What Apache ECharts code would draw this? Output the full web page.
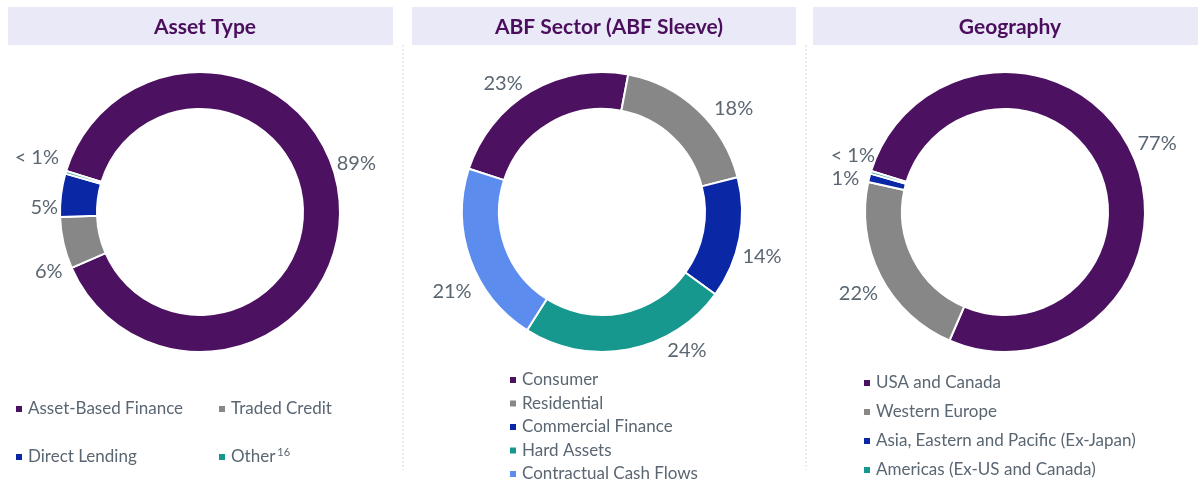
<!DOCTYPE html>
<html><head><meta charset="utf-8">
<script src="https://cdn.jsdelivr.net/npm/echarts@6/dist/echarts.min.js"></script>
<style>html,body{margin:0;padding:0;background:#fff}#c{width:1203px;height:490px}</style>
</head><body><div id="c"></div>
<script>
// ---- data ----
const assetNames = ['Asset-Based Finance', 'Traded Credit', 'Direct Lending', 'Other'];
const assetValues = [89, 6, 5, 0.3];
const assetLabels = ['89%', '6%', '5%', '< 1%'];

const sectorNames = ['Consumer', 'Residential', 'Commercial Finance', 'Hard Assets', 'Contractual Cash Flows'];
const sectorValues = [23, 18, 14, 24, 21];
const sectorLabels = ['23%', '18%', '14%', '24%', '21%'];

const geoNames = ['USA and Canada', 'Western Europe', 'Asia, Eastern and Pacific (Ex-Japan)', 'Americas (Ex-US and Canada)'];
const geoValues = [77, 22, 1, 0.3];
const geoLabels = ['77%', '22%', '1%', '< 1%'];

const titles = ['Asset Type', 'ABF Sector (ABF Sleeve)', 'Geography'];

// ---- style ----
const PURPLE = '#4C1261', GRAY = '#878787', NAVY = '#0A27A6', TEAL = '#16988F', LBLUE = '#5C8DEE';
const assetColors = [PURPLE, GRAY, NAVY, TEAL];
const sectorColors = [PURPLE, GRAY, NAVY, TEAL, LBLUE];
const geoColors = [PURPLE, GRAY, NAVY, TEAL];
const TXT = '#5A6672';
const FONT = 'Lato, "Open Sans", sans-serif';
// label nudges (style only), [dx, dy] per slice
const assetNudge = [[-14, -40], [10, 27], [8, 13], [4, -13]];
const sectorNudge = [[0, -3], [7, 3], [-8, 17], [33, -5], [12, 30]];
const geoNudge = [[-5, -7], [8, 15], [0, -14], [15, -15]];

function mkData(names, values, colors) {
  return names.map((n, i) => ({ name: n, value: values[i], itemStyle: { color: colors[i] } }));
}
function mkPie(cx, names, values, colors, labels, startAngle, nudge) {
  return {
    type: 'pie',
    center: [cx, 212],
    radius: [103, 140],
    startAngle: startAngle,
    clockwise: true,
    avoidLabelOverlap: true,
    itemStyle: { borderColor: '#fff', borderWidth: 2 },
    label: {
      show: true, position: 'outside',
      formatter: p => labels[p.dataIndex],
      color: TXT, fontSize: 20, fontFamily: FONT
    },
    labelLine: { show: false, length: 6, length2: 0 },
    labelLayout: p => ({ dx: nudge[p.dataIndex][0], dy: nudge[p.dataIndex][1] }),
    emphasis: { disabled: true },
    data: mkData(names, values, colors)
  };
}

const legendText = { color: TXT, fontSize: 17, fontFamily: FONT };
function mkLegend(data, left, top, lineHeight, gap) {
  return {
    data: data, orient: 'vertical', left: left, top: top, padding: 0, height: 200,
    icon: 'rect', itemWidth: 8, itemHeight: 8, itemGap: gap,
    selectedMode: false,
    textStyle: Object.assign({ lineHeight: lineHeight,
      rich: { sup: { fontSize: 11, color: TXT, fontFamily: FONT, verticalAlign: 'top', padding: [0, 0, 10, 2] } } }, legendText),
    formatter: n => n === 'Other' ? 'Other{sup|16}' : n
  };
}

const chart = echarts.init(document.getElementById('c'));
const barRects = [[8, 385], [412, 384], [813, 385]];
const graphics = [];
barRects.forEach(b => graphics.push({ type: 'rect', shape: { x: b[0], y: 7, width: b[1], height: 38 }, style: { fill: '#E9E9F8' }, z: 0 }));
[403, 806].forEach(x => graphics.push({ type: 'line', shape: { x1: x, y1: 45, x2: x, y2: 470 }, style: { stroke: '#D9D9D9', lineWidth: 1, lineDash: [2, 2] } }));

chart.setOption({
  animation: false,
  graphic: graphics,
  title: titles.map((t, i) => ({
    text: t, left: [200, 604, 1005][i], top: 12, textAlign: 'center',
    textStyle: { color: '#4A0E5C', fontSize: 21, fontWeight: 'bold', fontFamily: FONT }
  })),
  legend: [
    mkLegend([assetNames[0], assetNames[2]], 14, 399, 20, 28),
    mkLegend([assetNames[1], assetNames[3]], 217, 399, 20, 28),
    mkLegend(sectorNames, 508, 371, 18, 5.5),
    mkLegend(geoNames, 862, 373, 20, 9)
  ],
  series: [
    mkPie(200, assetNames, assetValues, assetColors, assetLabels, 163, assetNudge),
    mkPie(602, sectorNames, sectorValues, sectorColors, sectorLabels, 162, sectorNudge),
    mkPie(1005, geoNames, geoValues, geoColors, geoLabels, 163, geoNudge)
  ]
});
</script></body></html>
